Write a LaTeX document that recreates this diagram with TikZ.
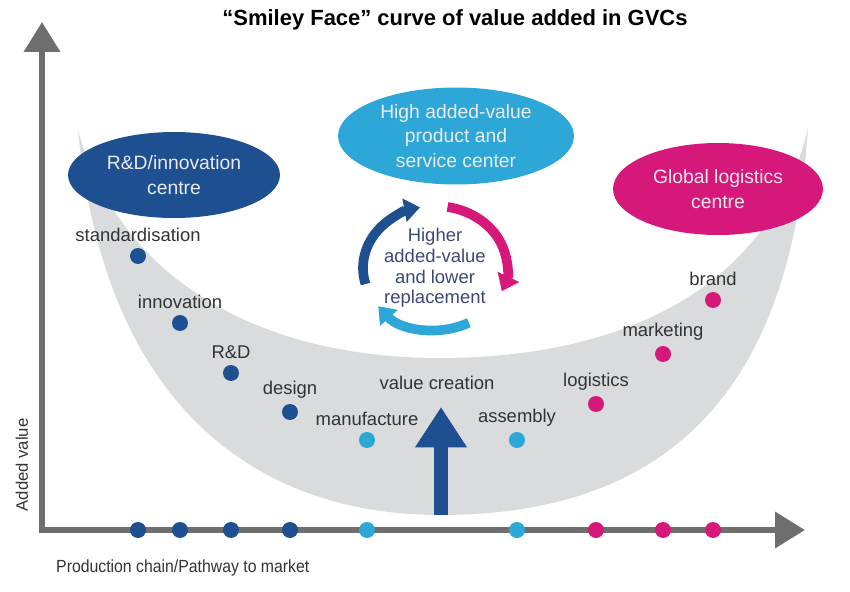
\documentclass[tikz,border=0pt]{standalone}
\usepackage{fontspec}
\setmainfont{Liberation Sans}
\newfontfamily\narrowfont[FakeStretch=0.9]{Liberation Sans}
\usetikzlibrary{positioning}
\usetikzlibrary{shapes.geometric, arrows.meta}
\definecolor{rdblue}{RGB}{30,79,145}
\definecolor{hvcyan}{RGB}{45,167,216}
\definecolor{glpink}{RGB}{214,24,122}
\definecolor{axisgrey}{RGB}{110,110,110}
\definecolor{smile}{RGB}{218,219,221}
\definecolor{labelgrey}{RGB}{51,51,51}
\definecolor{cycletext}{RGB}{60,72,120}
\tikzstyle{bubble}=[ellipse,inner sep=0pt,align=center,text=white!92!black,font=\fontsize{11}{14}\selectfont]
\tikzstyle{dot}=[circle,inner sep=0pt,minimum size=0.32cm]
\tikzstyle{lbl}=[text=labelgrey,font=\fontsize{10.5}{12}\selectfont,inner sep=1pt]
\tikzstyle{turn}=[line width=5.5pt,-{Triangle[width=13pt,length=9pt]}]

\begin{document}
\begin{tikzpicture}[x=0.02cm,y=-0.02cm]
		\useasboundingbox (0,0) rectangle (850,592);
		\node[font=\bfseries\fontsize{12.5}{14}\selectfont] (title) at (455,20) {“Smiley Face” curve of value added in GVCs};
		% the smile
		\fill[smile] (78,130) .. controls (105,410) and (260,515) .. (440,515)
			.. controls (660,515) and (790,400) .. (808,128)
			.. controls (770,290) and (620,358) .. (440,358)
			.. controls (260,358) and (120,280) .. (78,130) -- cycle;
		% axes
		\coordinate (O) at (42,530);
		\coordinate (Y) at (42,22);
		\coordinate (X) at (805,530);
		\draw[axisgrey,line width=3.4pt,{Triangle[width=20pt,length=17pt]}-{Triangle[width=20pt,length=17pt]}] (Y)--(O)--(X);
		\node[rotate=90,text=labelgrey,font=\fontsize{9.5}{11}\selectfont] (yl) at (22,465) {Added value};
		\node[anchor=west,text=labelgrey,font=\narrowfont\fontsize{10}{12}\selectfont] (xl) at (50,568) {Production chain/Pathway to market};
		% steps of the chain
		\foreach \n/\x/\y/\c/\t in {sd/138/256/rdblue/standardisation, in/180/323/rdblue/innovation, rd/231/373/rdblue/R\&D, de/290/412/rdblue/design, ma/367/440/hvcyan/manufacture, as/517/440/hvcyan/assembly, lo/596/404/glpink/logistics, mk/663/354/glpink/marketing, br/713/300/glpink/brand} {
			\node[dot,fill=\c] (\n) at (\x,\y) {};
			\node[lbl,above=2pt of \n] (\n-t) {\t};
			\node[dot,fill=\c] (\n-a) at (\x,530) {};}
		% centres
		\node[bubble,fill=rdblue,minimum width=4.24cm,minimum height=1.72cm] (rdc) at (174,175) {R\&D/innovation\\centre};
		\node[bubble,fill=hvcyan,minimum width=4.72cm,minimum height=1.94cm] (hvc) at (456,136) {High added-value\\product and\\service center};
		\node[bubble,fill=glpink,minimum width=4.2cm,minimum height=1.84cm] (glc) at (718,189) {Global logistics\\centre};
		% cycle
		\coordinate (cc) at (435,268);
		\node[text=cycletext,align=center,font=\fontsize{10.5}{11.8}\selectfont] (cyc) at (cc) {Higher\\added-value\\and lower\\replacement};
		\draw[turn,rdblue] (cc) ++(165:72 and 62) arc[start angle=165,end angle=258,x radius=72,y radius=62];
		\draw[turn,glpink] (cc) ++(280:72 and 62) arc[start angle=280,end angle=382,x radius=72,y radius=62];
		\draw[turn,hvcyan] (cc) ++(62:72 and 62) arc[start angle=62,end angle=142,x radius=72,y radius=62];
		% value creation
		\node[lbl] (vc) at (437,383) {value creation};
		\coordinate (vb) at (441,515);
		\coordinate (vt) at (441,407);
		\draw[rdblue,line width=8.5pt,-{Triangle[width=28pt,length=23pt]}] (vb)--(vt);
	\end{tikzpicture}
\end{document}
